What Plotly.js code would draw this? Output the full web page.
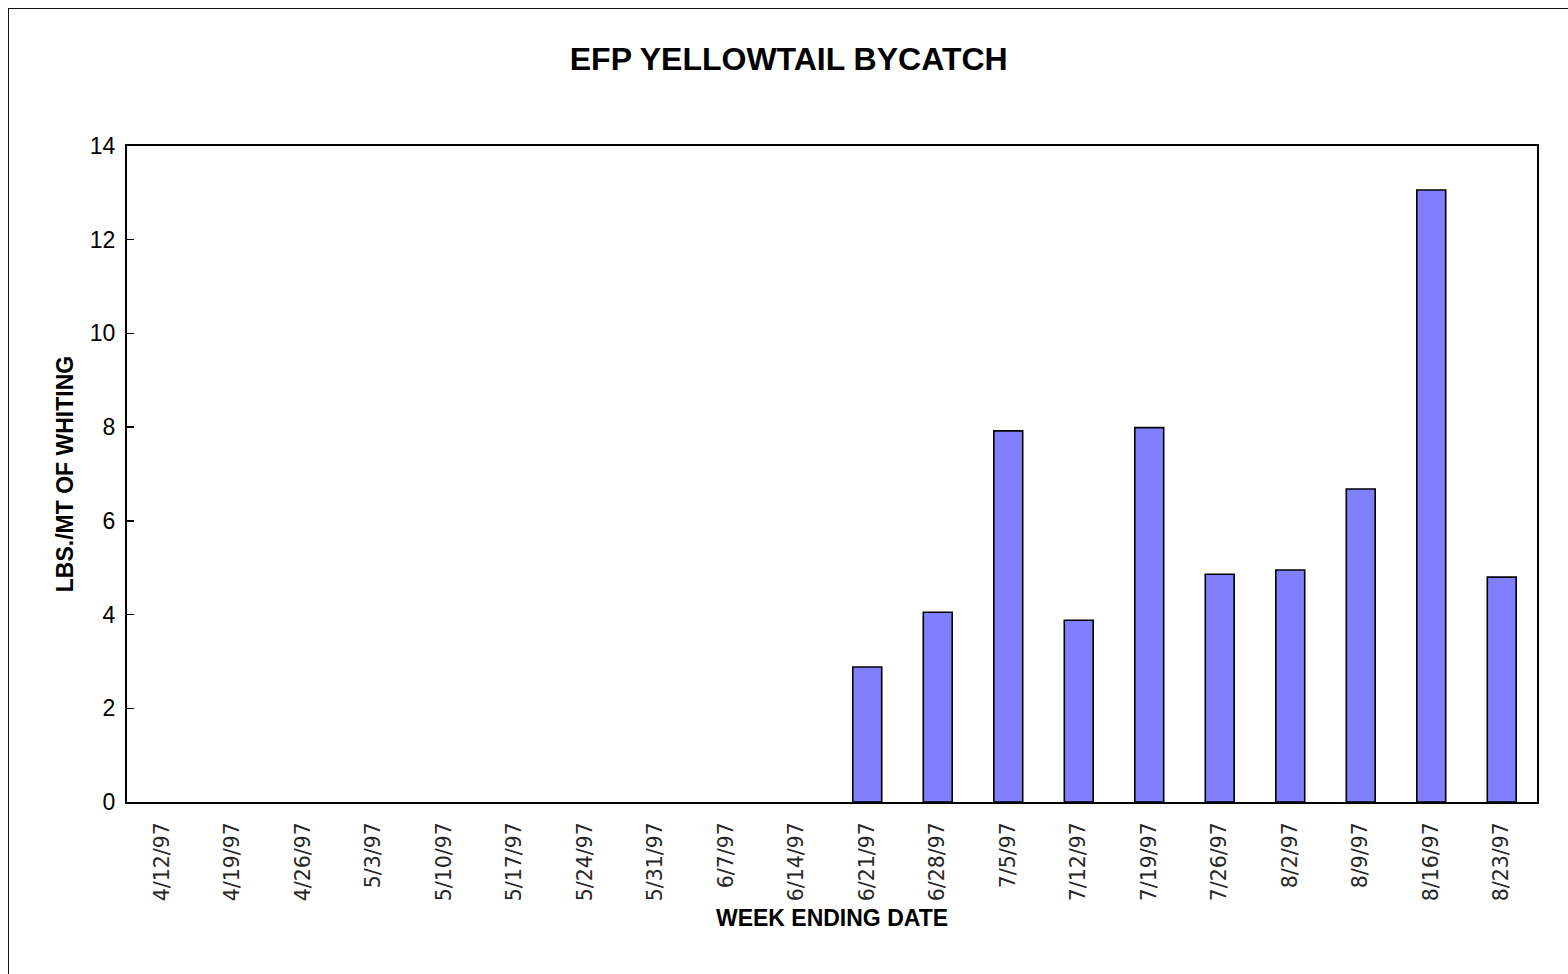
<!DOCTYPE html>
<html>
<head>
<meta charset="utf-8">
<script src="https://cdn.plot.ly/plotly-3.0.1.min.js"></script>
<style>
  html, body { margin: 0; padding: 0; background: #fff; overflow: hidden; }
  #frame { position: absolute; left: 8px; top: 8px; width: 1600px; height: 1000px; border-left: 1.5px solid #111; border-top: 1.5px solid #111; }
  #chart { position: absolute; left: 0; top: 0; width: 1568px; height: 974px; }
</style>
</head>
<body>
<div id="frame"></div>
<div id="chart"></div>
<script>
const weekEnding = ["4/12/97","4/19/97","4/26/97","5/3/97","5/10/97","5/17/97","5/24/97","5/31/97","6/7/97","6/14/97",
                    "6/21/97","6/28/97","7/5/97","7/12/97","7/19/97","7/26/97","8/2/97","8/9/97","8/16/97","8/23/97"];
const lbsPerMt = [null,null,null,null,null,null,null,null,null,null,
                  2.88,4.05,7.92,3.88,7.99,4.86,4.95,6.68,13.06,4.80];
const yTicks = [0,2,4,6,8,10,12,14];

const font = "Arial, 'Liberation Sans', sans-serif";

const trace = {
  type: "bar",
  x: weekEnding,
  y: lbsPerMt,
  marker: { color: "#8080FF", line: { color: "#000000", width: 1.6 } },
  hoverinfo: "x+y"
};

const layout = {
  width: 1568, height: 974,
  margin: { l: 127, r: 31, t: 146, b: 172, pad: 0 },
  paper_bgcolor: "rgba(0,0,0,0)",
  plot_bgcolor: "#ffffff",
  showlegend: false,
  bargap: 0.59,
  font: { family: font, color: "#000" },
  title: {
    text: "<b>EFP YELLOWTAIL BYCATCH</b>",
    font: { family: font, size: 32, color: "#000" },
    x: 0.503, xref: "container", xanchor: "center",
    y: 0.94, yref: "container", yanchor: "middle"
  },
  xaxis: {
    type: "category",
    tickangle: -90,
    tickfont: { family: "'DejaVu Sans', sans-serif", size: 20.5, color: "#262626" },
    ticks: "",
    ticklabelstandoff: 10,
    showline: true, linecolor: "#000", linewidth: 2, mirror: true,
    showgrid: false, zeroline: false,
    title: { text: "<b>WEEK ENDING DATE</b>", font: { family: font, size: 23, color: "#000" }, standoff: 10 }
  },
  yaxis: {
    range: [0, 14],
    tickvals: yTicks,
    ticktext: yTicks.map(String),
    ticks: "inside", ticklen: 7, tickwidth: 1.5, tickcolor: "#000",
    tickfont: { family: font, size: 23, color: "#000" },
    ticklabelstandoff: 5,
    showline: true, linecolor: "#000", linewidth: 2, mirror: true,
    showgrid: false, zeroline: false,
    title: { text: "<b>LBS./MT OF WHITING</b>", font: { family: font, size: 23, color: "#000" }, standoff: 10 }
  }
};

Plotly.newPlot("chart", [trace], layout, { displayModeBar: false, staticPlot: true });
</script>
</body>
</html>
